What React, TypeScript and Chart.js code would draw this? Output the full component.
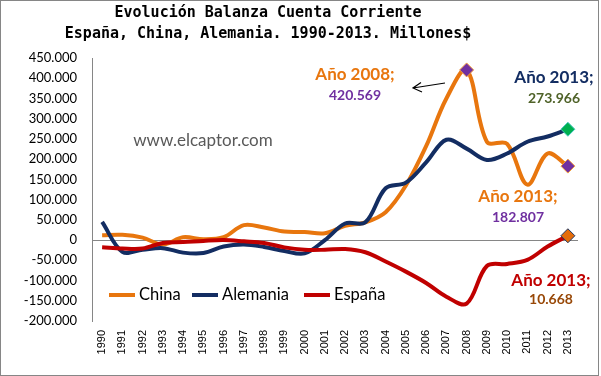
import React, { useEffect, useRef } from "react";
import { Chart, registerables } from "chart.js";

Chart.register(...registerables);

const years = ["1990","1991","1992","1993","1994","1995","1996","1997","1998","1999","2000","2001","2002","2003","2004","2005","2006","2007","2008","2009","2010","2011","2012","2013"];
const china = [12000, 13000, 6000, -11000, 7000, 2000, 7000, 37000, 31000, 21000, 20000, 17000, 35000, 44000, 69000, 135000, 232000, 350000, 420569, 243000, 238000, 137000, 214000, 182807];
const alemania = [45000, -29000, -24000, -20000, -31000, -32000, -16000, -11000, -17000, -27000, -33000, 0, 41000, 44000, 128000, 142000, 192000, 248000, 226000, 198000, 214000, 243000, 256000, 273966];
const espana = [-18000, -21000, -21000, -7000, -5000, -2000, 0, -3000, -7000, -18000, -24000, -24000, -22000, -30000, -53000, -78000, -106000, -140000, -157000, -64000, -59000, -49000, -16000, 10668];
const yTicks = [-200000, -150000, -100000, -50000, 0, 50000, 100000, 150000, 200000, 250000, 300000, 350000, 400000, 450000];
const titleLines = ["Evolución Balanza Cuenta Corriente", "España, China, Alemania. 1990-2013. Millones$"];
const seriesNames = ["China", "Alemania", "España"];

const ORANGE = "#E8760E";
const NAVY = "#132D62";
const RED = "#C00000";
const PURPLE = "#7030A0";
const GREEN = "#00B050";

function fmt(v: number): string {
  if (v === 0) return "0";
  const s = Math.abs(Math.round(v)).toString().replace(/\B(?=(\d{3})+(?!\d))/g, ".");
  return (v < 0 ? "-" : "") + s;
}

function markerArr(idx: number[], val: any, def: any) {
  return years.map((_, i) => (idx.includes(i) ? val : def));
}

const last = years.length - 1;
const peak = 18;

const overlay = {
  id: "overlay",
  afterDraw(chart: any) {
    const ctx = chart.ctx as CanvasRenderingContext2D;
    ctx.save();
    // border
    ctx.strokeStyle = "#868686";
    ctx.lineWidth = 1;
    ctx.strokeRect(0.5, 0.5, 598, 375);
    // title
    ctx.fillStyle = "#000";
    ctx.font = "bold 15px 'DejaVu Sans Mono'";
    ctx.textAlign = "center";
    ctx.textBaseline = "middle";
    ctx.fillText(titleLines[0], 268, 13);
    ctx.fillText(titleLines[1], 268, 34);
    // watermark
    ctx.font = "17px Lato";
    ctx.fillStyle = "#595959";
    ctx.fillText("www.elcaptor.com", 203, 141);
    // annotations
    const ann = (t1: string, c1: string, t2: string, c2: string, x: number, y1: number, y2: number) => {
      ctx.font = "bold 17px Lato";
      ctx.fillStyle = c1;
      ctx.fillText(t1, x, y1);
      ctx.font = "bold 14px Lato";
      ctx.fillStyle = c2;
      ctx.fillText(t2, x, y2);
    };
    ann("Año " + years[peak] + ";", ORANGE, fmt(china[peak]), PURPLE, 355, 75, 95);
    ann("Año " + years[last] + ";", NAVY, fmt(alemania[last]), "#4F6228", 554, 78, 98);
    ann("Año " + years[last] + ";", ORANGE, fmt(china[last]), PURPLE, 518, 197, 217);
    ann("Año " + years[last] + ";", RED, fmt(espana[last]), "#984807", 551, 281, 299);
    // arrow
    ctx.strokeStyle = "#000";
    ctx.lineWidth = 1.2;
    ctx.beginPath();
    ctx.moveTo(445, 83);
    ctx.lineTo(413, 88);
    ctx.moveTo(421, 82.5);
    ctx.lineTo(413, 88);
    ctx.lineTo(422, 92);
    ctx.stroke();
    // legend
    const colors = [ORANGE, NAVY, RED];
    const lx = [109, 192, 304];
    ctx.font = "16.5px Lato";
    ctx.textAlign = "left";
    for (let i = 0; i < 3; i++) {
      ctx.strokeStyle = colors[i];
      ctx.lineWidth = 4;
      ctx.beginPath();
      ctx.moveTo(lx[i], 295);
      ctx.lineTo(lx[i] + 26, 295);
      ctx.stroke();
      ctx.fillStyle = "#000";
      ctx.fillText(seriesNames[i], lx[i] + 30, 295);
    }
    ctx.restore();
  },
};

export default function App() {
  const ref = useRef<HTMLCanvasElement>(null);
  useEffect(() => {
    document.body.style.margin = "0";
    const chart = new Chart(ref.current!, {
      type: "line",
      data: {
        labels: years,
        datasets: [
          {
            label: seriesNames[0],
            data: china,
            borderColor: ORANGE,
            borderWidth: 4,
            tension: 0.35,
            order: 2,
            pointStyle: "rectRot",
            pointRadius: markerArr([peak, last], 7, 0),
            pointBackgroundColor: PURPLE,
            pointBorderColor: "#F2A040",
            pointBorderWidth: 1,
          },
          {
            label: seriesNames[1],
            data: alemania,
            borderColor: NAVY,
            borderWidth: 4,
            tension: 0.35,
            order: 1,
            pointStyle: "rectRot",
            pointRadius: markerArr([last], 7, 0),
            pointBackgroundColor: GREEN,
            pointBorderColor: "#4BC8C0",
            pointBorderWidth: 1,
          },
          {
            label: seriesNames[2],
            data: espana,
            borderColor: RED,
            borderWidth: 4,
            tension: 0.35,
            order: 0,
            pointStyle: "rectRot",
            pointRadius: markerArr([last], 7, 0),
            pointBackgroundColor: "#E46C0A",
            pointBorderColor: "#1F3864",
            pointBorderWidth: 1,
          },
        ],
      },
      options: {
        animation: false,
        responsive: true,
        maintainAspectRatio: false,
        layout: { padding: { left: 0, top: 58, right: 23, bottom: 0 } },
        plugins: { legend: { display: false }, tooltip: { enabled: false }, title: { display: false } },
        scales: {
          x: {
            type: "category",
            offset: true,
            grid: { display: false, drawTicks: false },
            border: { display: false },
            ticks: {
              minRotation: 90,
              maxRotation: 90,
              padding: 9,
              color: "#000",
              font: { family: "'Liberation Sans'", size: 11 },
            },
            afterFit(scale: any) {
              scale.height = 55;
            },
          },
          y: {
            min: -200000,
            max: 450000,
            afterBuildTicks(scale: any) {
              scale.ticks = yTicks.map((v) => ({ value: v }));
            },
            grid: {
              drawTicks: false,
              color: (c: any) => (c.tick && c.tick.value === 0 ? "#868686" : "rgba(0,0,0,0)"),
              lineWidth: 1,
            },
            border: { display: true, color: "#868686", width: 1 },
            ticks: {
              padding: 15,
              color: "#000",
              font: { family: "Lato", size: 13 },
              callback: (v: any) => fmt(Number(v)),
            },
            afterFit(scale: any) {
              scale.width = 92;
            },
          },
        },
      },
      plugins: [overlay],
    });
    return () => chart.destroy();
  }, []);
  return (
    <div style={{ position: "fixed", left: 0, top: 0, width: 601, height: 376, background: "#fff" }}>
      <canvas ref={ref} />
    </div>
  );
}
